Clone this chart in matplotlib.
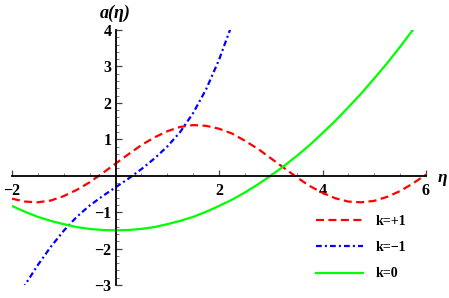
import matplotlib
matplotlib.use("Agg")
import matplotlib.pyplot as plt
from matplotlib.ticker import MultipleLocator, FixedLocator

# ---- data ----
eta = [-2.0, -1.75, -1.5, -1.25, -1.0, -0.75, -0.5, -0.25, 0.0, 0.25, 0.5,
       0.75, 1.0, 1.25, 1.5, 1.75, 2.0, 2.25, 2.5, 2.75, 3.0, 3.25, 3.5,
       3.75, 4.0, 4.25, 4.5, 4.75, 5.0, 5.25, 5.5, 5.75, 6.0]

a_closed = [-0.63, -0.71, -0.73, -0.68, -0.56, -0.39, -0.18, 0.07, 0.33,
            0.59, 0.84, 1.05, 1.22, 1.34, 1.39, 1.37, 1.29, 1.16, 0.96,
            0.74, 0.48, 0.22, -0.04, -0.28, -0.47, -0.62, -0.71, -0.73,
            -0.69, -0.58, -0.42, -0.21, 0.03]

a_flat = [-0.83, -0.99, -1.13, -1.24, -1.33, -1.41, -1.46, -1.49, -1.50,
          -1.49, -1.46, -1.41, -1.33, -1.24, -1.13, -0.99, -0.83, -0.66,
          -0.46, -0.24, 0.00, 0.26, 0.54, 0.84, 1.17, 1.51, 1.88, 2.26,
          2.67, 3.09, 3.54, 4.01, 4.50]

eta_open = [-1.8, -1.75, -1.5, -1.25, -1.0, -0.75, -0.5, -0.25, 0.0, 0.25,
            0.5, 0.75, 1.0, 1.25, 1.5, 1.75, 2.0, 2.25]
a_open = [-3.12, -3.0, -2.45, -1.95, -1.51, -1.13, -0.82, -0.56, -0.32,
          -0.08, 0.18, 0.47, 0.80, 1.20, 1.72, 2.37, 3.18, 4.15]

labels = ["k=+1", "k=\u22121", "k=0"]
xticks_major = [-2, 2, 4, 6]
yticks_major = [-3, -2, -1, 1, 2, 3, 4]

W, H = 449, 298
fig = plt.figure(figsize=(W / 100, H / 100), dpi=100)

x0, x1 = 12, 426      # pixel x of eta=-2 and eta=6
yt, yb = 30, 285      # pixel y of a=4 and a=-3
ax = fig.add_axes([x0 / W, 1 - yb / H, (x1 - x0) / W, (yb - yt) / H])
ax.set_xlim(-2, 6)
ax.set_ylim(-3, 4)
ax.patch.set_visible(False)

serif = ["Liberation Serif", "DejaVu Serif"]

l1, = ax.plot(eta, a_closed, color=(1, 0, 0), lw=1.6,
              linestyle=(0, (3.6, 2.0)), label=labels[0])
l2, = ax.plot(eta_open, a_open, color=(0, 0, 1), lw=1.6,
              linestyle=(0, (2.6, 1.4, 0.9, 1.4)), label=labels[1])
l3, = ax.plot(eta, a_flat, color=(0, 1, 0), lw=1.6, linestyle="-",
              label=labels[2])

for s in ["top", "right"]:
    ax.spines[s].set_visible(False)
ax.spines["left"].set_position(("data", 0))
ax.spines["bottom"].set_position(("data", 0))
for s in ["left", "bottom"]:
    ax.spines[s].set_linewidth(1.3)
    ax.spines[s].set_color("black")

ax.xaxis.set_major_locator(FixedLocator(xticks_major))
ax.xaxis.set_minor_locator(MultipleLocator(0.5))
ax.yaxis.set_major_locator(FixedLocator(yticks_major))
ax.yaxis.set_minor_locator(MultipleLocator(0.2))
ax.set_xticklabels([("\u2212%d" % -v) if v < 0 else str(v) for v in xticks_major])
ax.set_yticklabels([("\u2212%d" % -v) if v < 0 else str(v) for v in yticks_major])
ax.tick_params(which="major", direction="in", length=4, width=0.9, color="#444444")
ax.tick_params(which="minor", direction="in", length=2, width=0.6, color="#666666")
ax.tick_params(axis="x", which="major", pad=5)
ax.tick_params(axis="y", which="major", pad=3)
for t in ax.get_xticklabels() + ax.get_yticklabels():
    t.set_fontfamily(serif)
    t.set_fontweight("bold")
    t.set_fontsize(11.5)

fig.text(115 / W, 1 - 13 / H, "a(\u03b7)", family=serif, style="italic",
         fontweight="bold", fontsize=13, ha="center", va="center")
fig.text(442 / W, 1 - 178 / H, "\u03b7", family=serif, style="italic",
         fontweight="bold", fontsize=12.5, ha="center", va="center")

leg = fig.legend(handles=[l1, l2, l3], loc="upper left",
                 bbox_to_anchor=(316 / W, 1 - 215 / H),
                 bbox_transform=fig.transFigure, frameon=False,
                 borderpad=0, borderaxespad=0, handlelength=3.4,
                 handletextpad=0.9, labelspacing=0.95,
                 prop={"family": serif, "weight": "bold", "size": 10})

fig.savefig("out.png", dpi=100)
